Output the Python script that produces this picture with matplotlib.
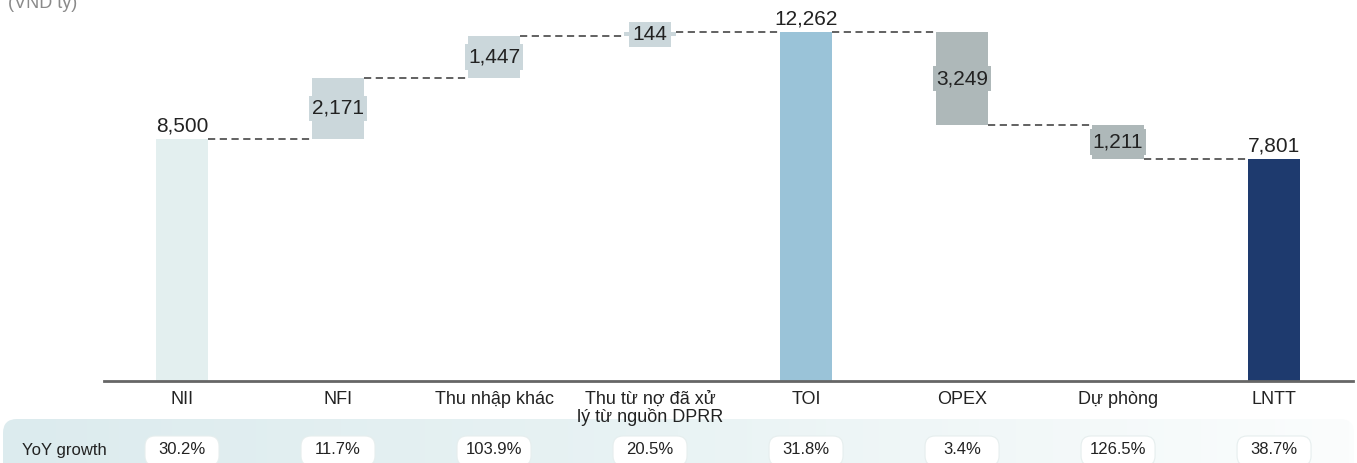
import numpy as np
import matplotlib
matplotlib.use('Agg')
import matplotlib.pyplot as plt
from matplotlib.patches import FancyBboxPatch
from matplotlib.transforms import blended_transform_factory

plt.rcParams['font.family'] = ['Liberation Sans', 'DejaVu Sans']

# data
categories = ['NII', 'NFI', 'Thu nhập khác', 'Thu từ nợ đã xử\nlý từ nguồn DPRR',
              'TOI', 'OPEX', 'Dự phòng', 'LNTT']
values = [8500, 2171, 1447, 144, 12262, -3249, -1211, 7801]
kinds = ['total', 'inc', 'inc', 'inc', 'total', 'dec', 'dec', 'total']
labels = ['8,500', '2,171', '1,447', '144', '12,262', '3,249', '1,211', '7,801']
yoy = ['30.2%', '11.7%', '103.9%', '20.5%', '31.8%', '3.4%', '126.5%', '38.7%']
colors = ['#E3EFEF', '#CBD7DB', '#CBD7DB', '#CBD7DB', '#9AC3D8', '#AEB8B9', '#AEB8B9', '#1E3A6E']

W, H = 1357, 463
fig = plt.figure(figsize=(W / 100, H / 100), dpi=100)

# background layer in pixel coords (bottom panel)
bg = fig.add_axes([0, 0, 1, 1], zorder=0)
bg.set_xlim(0, W)
bg.set_ylim(H, 0)
bg.axis('off')
panel = FancyBboxPatch((3, 419), W - 6, 80, boxstyle='round,pad=0,rounding_size=14',
                       facecolor='none', edgecolor='none')
bg.add_patch(panel)
grad = np.linspace(0, 1, 256).reshape(1, -1)
from matplotlib.colors import LinearSegmentedColormap
cmap = LinearSegmentedColormap.from_list('p', ['#DCEBEE', '#E9F3F4', '#FBFDFD'])
im = bg.imshow(grad, cmap=cmap, extent=[3, W - 3, 500, 419], aspect='auto', zorder=0)
im.set_clip_path(panel)

ax = fig.add_axes([104 / W, 82 / H, (1353 - 104) / W, 381 / H], zorder=1)
ax.patch.set_alpha(0)

x = np.arange(len(categories))
bw = 0.333
bottoms = []
tops = []
run = 0
for v, k in zip(values, kinds):
    if k == 'total':
        bottoms.append(0)
        tops.append(v)
        run = v
    elif k == 'inc':
        bottoms.append(run)
        run += v
        tops.append(run)
    else:
        tops.append(run)
        run += v
        bottoms.append(run)
bottoms = np.array(bottoms)
tops = np.array(tops)

ax.bar(x, tops - bottoms, bottom=bottoms, width=bw, color=colors, zorder=2)

# connectors
levels = []
for i in range(len(x) - 1):
    if kinds[i] == 'dec':
        lvl = bottoms[i]
    else:
        lvl = tops[i]
    ax.plot([x[i] + bw / 2, x[i + 1] - bw / 2], [lvl, lvl], color='#555555',
            lw=1.3, linestyle=(0, (4, 2.5)), zorder=1)

# value labels
for i in range(len(x)):
    if kinds[i] == 'total':
        ax.annotate(labels[i], (x[i], tops[i]), xytext=(0, 3), textcoords='offset points',
                    ha='center', va='bottom', fontsize=15, color='#222222')
    else:
        mid = (tops[i] + bottoms[i]) / 2
        ax.text(x[i], mid, labels[i], ha='center', va='center', fontsize=15,
                color='#222222', zorder=3,
                bbox=dict(boxstyle='square,pad=0.15', facecolor=colors[i], edgecolor='none'))

ax.set_xlim(-0.5, 7.506)
ax.set_ylim(0, 381 / 0.02843)
for s in ['top', 'right', 'left']:
    ax.spines[s].set_visible(False)
ax.spines['bottom'].set_color('#666666')
ax.spines['bottom'].set_linewidth(2)
ax.set_yticks([])
ax.set_xticks(x)
ax.set_xticklabels(categories, fontsize=13, color='#222222', linespacing=1.0)
ax.tick_params(axis='x', length=0, pad=7)

# yoy row
bg.text(22, 450, 'YoY growth', ha='left', va='center', fontsize=12, color='#222222')
for i in range(len(x)):
    px = ax.transData.transform((x[i], 0))[0]
    pill = FancyBboxPatch((px - 37, 436), 74, 30, boxstyle='round,pad=0,rounding_size=10',
                          facecolor='white', edgecolor='#E6EEEE', lw=0.8, zorder=2)
    bg.add_patch(pill)
    bg.text(px, 450, yoy[i], ha='center', va='center', fontsize=12, color='#222222', zorder=3)

fig.text(8 / W, 1 - 3 / H, '(VND tỷ)', ha='left', va='center', fontsize=13, color='#8A8A8A')

fig.savefig('out.png', dpi=100)
